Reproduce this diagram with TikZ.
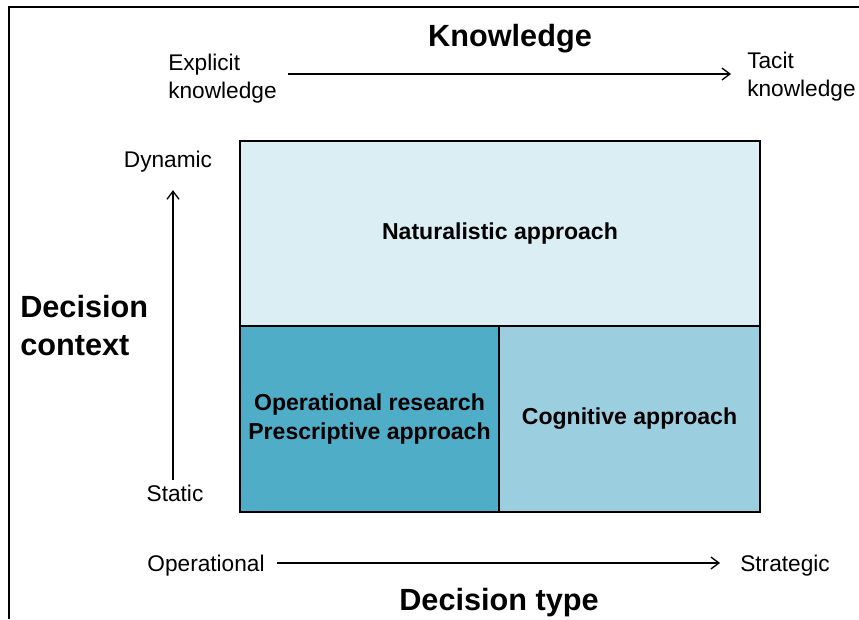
\documentclass[tikz,border=0pt]{standalone}
\usepackage{fontspec}
\setmainfont{Liberation Sans}
\usetikzlibrary{arrows.meta}
\definecolor{natfill}{HTML}{DAEEF3}
\definecolor{opfill}{HTML}{4FADC8}
\definecolor{cogfill}{HTML}{9BCFE0}
\tikzset{
  lbl/.style={font=\fontsize{17}{21}\selectfont, inner sep=0pt, align=left},
  hdr/.style={font=\bfseries\fontsize{23}{28.5}\selectfont, inner sep=0pt, align=left},
  area/.style={draw, line width=2pt, inner sep=0pt, align=center,
    font=\bfseries\fontsize{17.3}{21.75}\selectfont},
  axis/.style={-{Straight Barb[length=6pt,width=9pt]}, line width=1pt}
}
\begin{document}
\begin{tikzpicture}[x=0.75pt,y=-0.75pt]
\useasboundingbox (0,0) rectangle (859,619);
\draw[line width=1pt] (9,619) -- (9,7) -- (859,7);
\node[area, fill=natfill, minimum width=390pt, minimum height=138.75pt] (nat) at (500,233.5) {Naturalistic approach};
\node[area, fill=opfill, minimum width=194.25pt, minimum height=139.5pt] (opres) at (369.5,419) {Operational research\\Prescriptive approach};
\node[area, fill=cogfill, minimum width=195.75pt, minimum height=139.5pt] (cogn) at (629.5,419) {Cognitive approach};
\node[hdr] (know) at (510,39) {Knowledge};
\node[lbl, anchor=west] (expl) at (168,79) {Explicit\\knowledge};
\node[lbl, anchor=west] (tacit) at (747,77) {Tacit\\knowledge};
\draw[axis, shorten <=8pt, shorten >=12pt] (expl.east |- 0,74) -- (tacit.west |- 0,74);
\node[hdr, anchor=west] (ctx) at (20,326) {Decision\\context};
\node[lbl] (dyn) at (168,162) {Dynamic};
\node[lbl] (stat) at (175,493) {Static};
\draw[axis, shorten <=3pt, shorten >=13pt] ([xshift=-1.5pt]stat.north) -- ([xshift=-1.5pt]stat.north |- dyn.south);
\node[lbl] (oper) at (206,566) {Operational};
\node[lbl] (strat) at (785,566) {Strategic};
\draw[axis, shorten <=9pt, shorten >=15pt] (oper.east |- 0,563) -- (strat.west |- 0,563);
\node[hdr] (dtype) at (499,603) {Decision type};
\end{tikzpicture}
\end{document}
